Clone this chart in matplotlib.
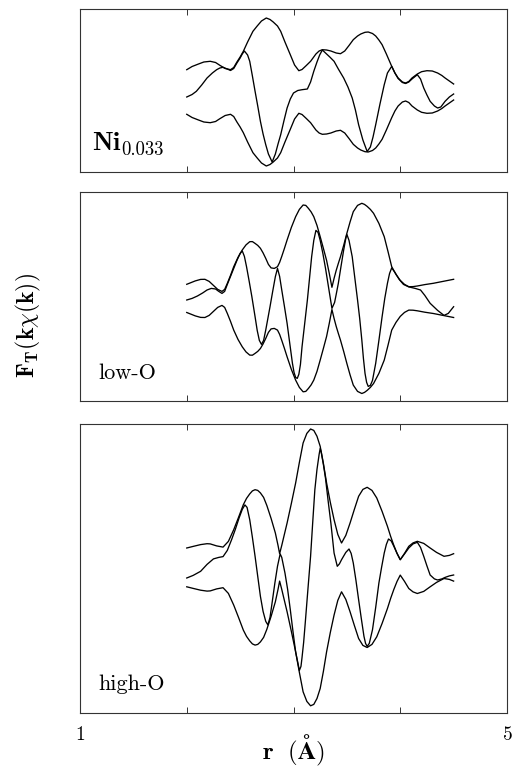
import numpy as np
import matplotlib
matplotlib.use("Agg")
import matplotlib.pyplot as plt

plt.rcParams["mathtext.fontset"] = "cm"

# ---- Ni0.033 : |FT| envelope and Im part (arbitrary units)
r_mag_ni = [2.00, 2.05, 2.11, 2.16, 2.22, 2.27, 2.31, 2.36, 2.41, 2.44,
            2.47, 2.50, 2.53, 2.57, 2.62, 2.66, 2.70, 2.745, 2.78, 2.81,
            2.85, 2.88, 2.92, 2.97, 3.01, 3.05, 3.08, 3.12, 3.16, 3.21,
            3.24, 3.27, 3.31, 3.35, 3.40, 3.44, 3.48, 3.52, 3.56, 3.60,
            3.63, 3.67, 3.70, 3.74, 3.77, 3.80, 3.83, 3.87, 3.92, 3.95,
            3.98, 4.02, 4.05, 4.08, 4.11, 4.16, 4.20, 4.25, 4.30, 4.35,
            4.39, 4.42, 4.46, 4.50]
mag_ni = [22.3, 25.5, 28, 30, 30.7, 29.5, 26.7, 23.5, 22.3, 24.5,
          30, 35, 40.7, 50, 60.7, 66, 71, 74, 72.5, 70,
          66, 60.7, 50, 37.3, 27, 21.3, 22.5, 26.5, 30.7, 38,
          41, 42.3, 42, 41, 39, 38.3, 41, 46.5, 52.3, 56,
          58, 59.7, 60, 58.5, 56, 52, 47.3, 38, 25.7, 19,
          14, 10, 9, 10.5, 14, 18, 20.3, 21.3, 21, 19,
          16.5, 14, 11, 8]
r_im_ni = [2.00, 2.05, 2.09, 2.14, 2.19, 2.24, 2.28, 2.31, 2.34, 2.38,
           2.41, 2.44, 2.47, 2.50, 2.52, 2.54, 2.57, 2.59, 2.615, 2.64,
           2.665, 2.69, 2.715, 2.74, 2.765, 2.80, 2.83, 2.855, 2.88, 2.91,
           2.94, 2.97, 3.00, 3.04, 3.08, 3.13, 3.16, 3.19, 3.22, 3.245,
           3.27, 3.30, 3.34, 3.38, 3.42, 3.47, 3.51, 3.55, 3.58, 3.61,
           3.65, 3.69, 3.72, 3.745, 3.77, 3.81, 3.85, 3.88, 3.92, 3.95,
           3.98, 4.02, 4.05, 4.08, 4.11, 4.16, 4.19, 4.22, 4.25, 4.28,
           4.32, 4.35, 4.38, 4.42, 4.46, 4.50]
im_ni = [-5, -2.5, 0.7, 7, 14, 19, 22.3, 24, 24.7, 23,
         21.5, 23.5, 29, 34, 38, 41, 37, 30.7, 16, 0.7,
         -14, -29.3, -42, -52.7, -62, -70, -62, -52, -42.7, -29,
         -16, -7, -1, 1.5, 2.3, 3, 10, 20.7, 30, 37,
         42, 39, 35, 30.7, 23, 14, 5, -6, -18, -32.7,
         -48, -59.5, -55, -45, -32.7, -12, 7.3, 19, 25.7, 19,
         13.5, 9.5, 8.5, 10, 13, 17.3, 13, 4, -3, -9.3,
         -14, -16, -15, -9.3, -5, -2]

# ---- low-O
r_mag_lo = [2.00, 2.04, 2.08, 2.13, 2.17, 2.21, 2.25, 2.29, 2.33, 2.355,
            2.38, 2.41, 2.44, 2.48, 2.52, 2.555, 2.59, 2.615, 2.64, 2.665,
            2.69, 2.715, 2.74, 2.765, 2.79, 2.82, 2.85, 2.87, 2.89, 2.915,
            2.94, 2.98, 3.02, 3.055, 3.09, 3.115, 3.14, 3.165, 3.19, 3.22,
            3.25, 3.28, 3.31, 3.335, 3.36, 3.38, 3.40, 3.42, 3.44, 3.47,
            3.50, 3.53, 3.56, 3.60, 3.64, 3.665, 3.69, 3.72, 3.75, 3.80,
            3.85, 3.885, 3.92, 3.96, 4.00, 4.04, 4.08, 4.12, 4.16, 4.23,
            4.31, 4.40, 4.50]
mag_lo = [14.1, 15.8, 17.5, 19, 19.1, 17, 13, 9, 7, 9,
          15, 23, 31.7, 41, 48.4, 53.5, 56.7, 56.8, 55, 53,
          50.1, 45.5, 40, 34, 30.5, 30, 31.7, 36, 42, 50,
          58.4, 71, 81.7, 89, 93.4, 93, 90, 86.5, 81.7, 73,
          61.7, 50, 38, 25, 11.1, 20, 28, 35, 41.7, 53,
          65.1, 76.5, 86.7, 93, 95.1, 94, 92, 89, 85.1, 75,
          61.7, 47, 31.7, 24, 18, 14, 11.7, 11.8, 12.4, 13.8,
          15.1, 17, 19.1]
r_im_lo = [2.00, 2.05, 2.10, 2.15, 2.19, 2.23, 2.27, 2.30, 2.33, 2.355,
           2.38, 2.41, 2.44, 2.47, 2.50, 2.52, 2.54, 2.56, 2.585, 2.61,
           2.64, 2.66, 2.68, 2.70, 2.72, 2.74, 2.76, 2.78, 2.805, 2.83,
           2.85, 2.87, 2.89, 2.915, 2.94, 2.965, 2.99, 3.005, 3.02, 3.035,
           3.05, 3.065, 3.08, 3.105, 3.13, 3.15, 3.17, 3.19, 3.21, 3.23,
           3.25, 3.275, 3.30, 3.33, 3.36, 3.385, 3.40, 3.42, 3.445, 3.47,
           3.49, 3.50, 3.52, 3.55, 3.575, 3.60, 3.62, 3.64, 3.655, 3.67,
           3.685, 3.70, 3.72, 3.74, 3.77, 3.80, 3.83, 3.855, 3.88, 3.90,
           3.92, 3.95, 3.99, 4.03, 4.08, 4.14, 4.19, 4.23, 4.28, 4.35,
           4.41, 4.45, 4.50]
im_lo = [-1.6, 0, 2.4, 5.5, 8.4, 10, 9.4, 7, 5, 7,
         14, 22, 30, 38, 45, 47.5, 42, 31.7, 17, 1.7,
         -18.3, -32, -42, -46, -42, -31.6, -20, -8.3, 7, 21.7,
         30, 22, 8.4, -8, -24.9, -45, -64.9, -74, -79, -80,
         -76, -66, -48.3, -25, -1.6, 20, 41.7, 58, 68, 66,
         58, 45, 30, 10, -10, -4, 4, 15.1, 32, 48.4,
         60, 64, 58, 41.7, 20, -1.6, -20, -41.6, -60, -75,
         -84, -88, -87, -82, -64.9, -42, -18.3, 0, 15.1, 25,
         30.5, 26, 19, 14, 11.5, 10, 8.4, 3, -4.9, -12,
         -17, -15, -8.3]

# ---- high-O
r_mag_hi = [2.00, 2.06, 2.13, 2.19, 2.22, 2.28, 2.34, 2.39, 2.44, 2.485,
            2.53, 2.56, 2.59, 2.615, 2.64, 2.665, 2.69, 2.72, 2.75, 2.79,
            2.83, 2.855, 2.87, 2.89, 2.91, 2.94, 2.98, 3.02, 3.055, 3.09,
            3.125, 3.16, 3.19, 3.22, 3.25, 3.28, 3.31, 3.345, 3.38, 3.415,
            3.45, 3.49, 3.53, 3.57, 3.61, 3.65, 3.69, 3.735, 3.78, 3.83,
            3.88, 3.91, 3.94, 3.97, 4.00, 4.04, 4.08, 4.12, 4.16, 4.22,
            4.28, 4.34, 4.41, 4.46, 4.50]
mag_hi = [19.4, 21, 22.8, 23.7, 23.5, 21.5, 20.3, 26, 37.7, 50,
          62.7, 69, 73.5, 76.5, 77.7, 77, 74.5, 70, 62, 49,
          34.4, 22, 13.7, 22, 31, 44.4, 64, 84.4, 105, 124.4,
          134, 138.4, 137, 131.1, 121.1, 104, 84.4, 65, 47.7, 33,
          24.4, 32, 44.4, 58, 71.1, 78, 80.1, 77, 69.4, 56,
          41.1, 31, 22, 14, 7.7, 14, 21.1, 24.5, 26.1, 24,
          19.4, 15, 11.1, 12, 13.7]
r_im_hi = [2.00, 2.06, 2.13, 2.19, 2.25, 2.30, 2.34, 2.38, 2.42, 2.455,
           2.49, 2.52, 2.545, 2.565, 2.59, 2.615, 2.64, 2.665, 2.69, 2.715,
           2.74, 2.76, 2.78, 2.80, 2.825, 2.85, 2.875, 2.89, 2.92, 2.945,
           2.97, 2.995, 3.02, 3.04, 3.055, 3.07, 3.08, 3.095, 3.11, 3.135,
           3.16, 3.18, 3.20, 3.22, 3.24, 3.25, 3.26, 3.28, 3.30, 3.325,
           3.35, 3.38, 3.41, 3.43, 3.45, 3.49, 3.52, 3.54, 3.56, 3.585,
           3.61, 3.635, 3.66, 3.675, 3.69, 3.71, 3.74, 3.77, 3.80, 3.825,
           3.85, 3.87, 3.89, 3.915, 3.94, 3.97, 4.00, 4.04, 4.08, 4.12,
           4.16, 4.19, 4.22, 4.25, 4.28, 4.32, 4.35, 4.39, 4.42, 4.46,
           4.50]
im_hi = [-10.6, -8, -3.9, 3, 8.5, 10, 10.8, 17, 27.7, 38,
         49.4, 58, 62.5, 60, 47.7, 30, 11.1, -9, -28.9, -44,
         -54, -57.5, -50, -35, -16, 1.1, 13.5, 10, -5.6, -22,
         -42.3, -64, -84.6, -95, -103, -99, -90, -75, -55.6, -22,
         11.1, 45, 77.7, 98, 113, 119, 115, 103, 89, 66,
         44.4, 14.4, 1.1, 3.5, 7.7, 15, 18.4, 14, 4.4, -13,
         -32.3, -51, -68.9, -76, -79, -76, -62.3, -40, -15.6, 0,
         14.4, 23, 28.4, 26.5, 21.1, 14, 7.7, 13.5, 19.4, 23.5,
         25.1, 20, 11.1, 1.5, -7.6, -11.5, -12.6, -11.5, -10, -8.5,
         -7.6]

labels = ["low-O", "high-O"]

W, H = 514, 772
fig = plt.figure(figsize=(W / 100, H / 100), dpi=100)

# panel frames in pixels: (top, bottom) and the zero line pixel
frames = [(8.5, 172, 92), (192, 401, 298.4), (423.5, 713, 567.4)]
x0, x1 = 80, 507

series = [(r_mag_ni, mag_ni, r_im_ni, im_ni),
          (r_mag_lo, mag_lo, r_im_lo, im_lo),
          (r_mag_hi, mag_hi, r_im_hi, im_hi)]
text_pos = [None, (0.042, 0.105), (0.042, 0.079)]

for i, ((top, bot, c), (rm, m, ri, im)) in enumerate(zip(frames, series)):
    ax = fig.add_axes([x0 / W, 1 - bot / H, (x1 - x0) / W, (bot - top) / H])
    m = np.array(m)
    ax.plot(rm, m, color="black", lw=0.95)
    ax.plot(rm, -m, color="black", lw=0.95)
    ax.plot(ri, im, color="black", lw=0.95)
    ax.set_xlim(1, 5)
    ax.set_ylim(c - bot, c - top)
    ax.set_yticks([])
    ax.set_xticks([1, 2, 3, 4, 5])
    ax.tick_params(axis="x", direction="in", top=True, length=4.3,
                   width=0.7, color="#333333", pad=8.5)
    for s in ax.spines.values():
        s.set_linewidth(0.8)
        s.set_color("#333333")
    if i == 2:
        ax.set_xticklabels([r"$\mathbf{1}$", "", "", "", r"$\mathbf{5}$"],
                           fontsize=14)
    else:
        ax.set_xticklabels([])
    if i > 0:
        ax.text(text_pos[i][0], text_pos[i][1], labels[i - 1],
                transform=ax.transAxes, fontsize=16, family="cmr10",
                va="baseline", ha="left")

# sample name in the top panel: bold "Ni" with a larger-than-usual subscript
fig.text(92 / W, 1 - 150 / H, r"$\mathbf{Ni}$", fontsize=19,
         ha="left", va="baseline")
fig.text(121 / W, 1 - 155 / H, "0.033", fontsize=13.5, family="cmr10",
         ha="left", va="baseline")

fig.text(293 / W, 1 - 759 / H, r"$\mathbf{r\ \ (\AA)}$", fontsize=18,
         ha="center", va="baseline")
fig.text(28 / W, 1 - 326 / H, r"$\mathbf{F_T(k\chi(k))}$", rotation=90,
         fontsize=17, ha="center", va="center")

fig.savefig("out.png", dpi=100)
